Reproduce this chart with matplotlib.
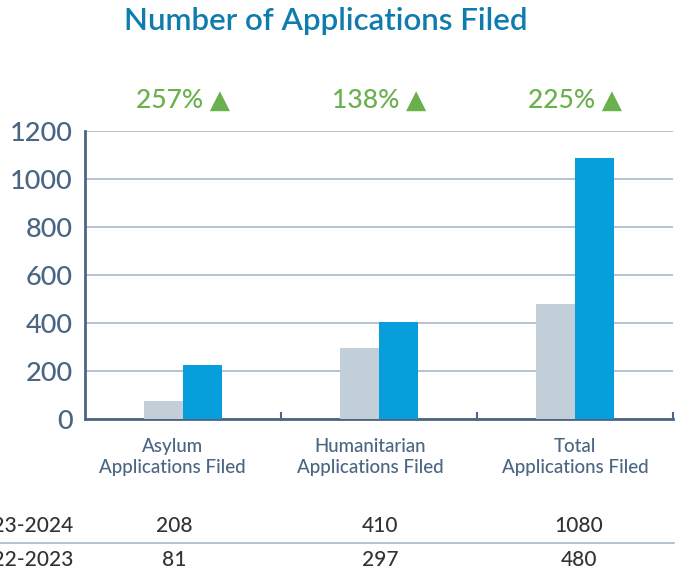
import matplotlib.pyplot as plt
import numpy as np

# ---------------- datos ---------------- #
categorias = ['Asylum\nApplications Filed', 'Humanitarian\nApplications Filed',
              'Total\nApplications Filed']
barras_2022 = [75, 297, 479]
barras_2023 = [224, 404, 1086]
tabla_2023 = ['208', '410', '1080']
tabla_2022 = ['81', '297', '480']
filas = ['2023-2024', '2022-2023']
cambios = ['257%', '138%', '225%']

# ---------------- estilo ---------------- #
plt.rcParams['font.family'] = ['Lato', 'DejaVu Sans']
GRIS = '#c2cfd8'
AZUL = '#069fdb'
PIZARRA = '#4b6683'
VERDE = '#6ab04c'

fig = plt.figure(figsize=(6.81, 5.75), dpi=100)
ax = fig.add_axes([85 / 681, 1 - 419 / 575, 588 / 681, 288 / 575])

x = np.arange(len(categorias))
ancho = 0.2
ax.bar(x - ancho / 2, barras_2022, ancho, color=GRIS, zorder=3)
ax.bar(x + ancho / 2, barras_2023, ancho, color=AZUL, zorder=3)

ax.set_xlim(-0.5, 2.5)
ax.set_ylim(0, 1200)
ax.set_yticks(range(0, 1201, 200))
ax.tick_params(axis='y', length=0, pad=9, labelsize=19.5, labelcolor=PIZARRA)
for etiqueta in ax.get_yticklabels():
    etiqueta.set_fontweight('medium')
ax.set_xticks([0.5, 1.5, 2.5])
ax.set_xticklabels([])
ax.tick_params(axis='x', direction='in', length=5, width=1.5, color=PIZARRA)
ax.grid(axis='y', color='#a9b8c8', linewidth=1.2, zorder=0)

for lado in ['top', 'right']:
    ax.spines[lado].set_visible(False)
for lado in ['left', 'bottom']:
    ax.spines[lado].set_color(PIZARRA)
    ax.spines[lado].set_linewidth(2)

# Etiquetas de categoría
desplaza = [-0.054, -0.046, 0.0]
for i, cat in enumerate(categorias):
    ax.text(i + desplaza[i], -0.065, cat, transform=ax.get_xaxis_transform(),
            ha='center', va='top', fontsize=13.5, color=PIZARRA,
            linespacing=1.3, fontweight='medium')

# Porcentajes de cambio
for i, c in enumerate(cambios):
    ax.text(i, 1.108, c + ' \u25B2', transform=ax.get_xaxis_transform(),
            ha='center', va='center', fontsize=19, color=VERDE, clip_on=False,
            fontweight='medium')

# Título
fig.text(326 / 681, 1 - 21 / 575, 'Number of Applications Filed',
         ha='center', va='center', fontsize=22.5, fontweight='semibold',
         color='#0e7cad')

# Tabla inferior
col_x = [174, 380, 579]
for fila, valores, y in [(filas[0], tabla_2023, 526), (filas[1], tabla_2022, 560)]:
    fig.text(73 / 681, 1 - y / 575, fila, ha='right', va='center',
             fontsize=15, color='#333333', fontweight='medium')
    for cx, v in zip(col_x, valores):
        fig.text(cx / 681, 1 - y / 575, v, ha='center', va='center',
                 fontsize=15, color='#333333', fontweight='medium')

fig.add_artist(plt.Line2D([0, 674 / 681], [1 - 543 / 575] * 2,
                          color='#a9b8c8', linewidth=1.2))

fig.savefig('out.png', dpi=100)
